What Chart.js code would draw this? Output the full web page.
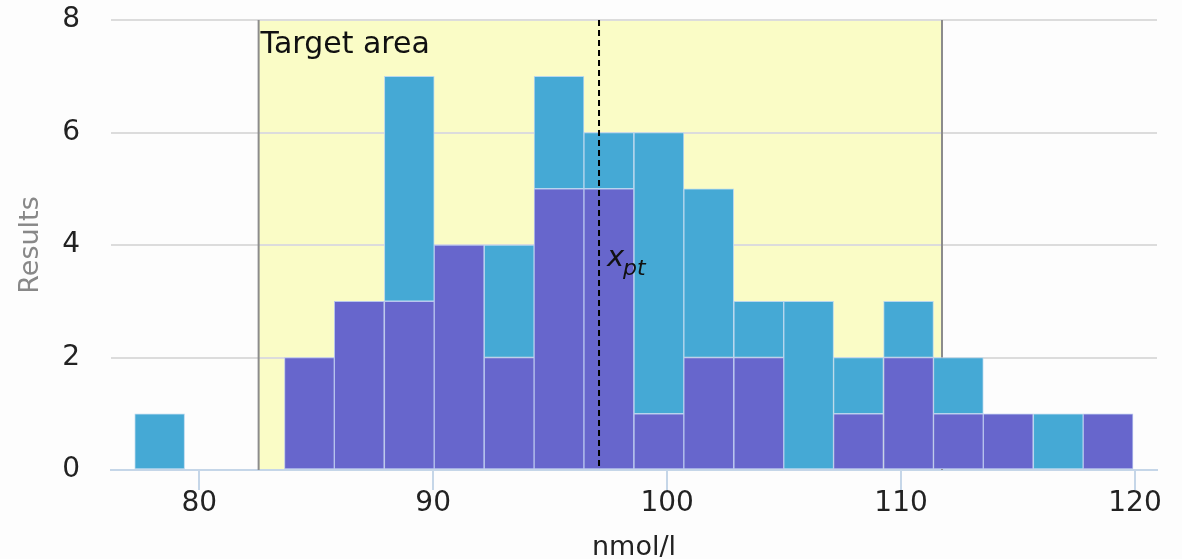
<!DOCTYPE html>
<html>
<head>
<meta charset="utf-8">
<script src="https://cdn.jsdelivr.net/npm/chart.js@4"></script>
<style>
  html, body { margin: 0; padding: 0; background: #fdfdfd; }
  #wrap { width: 1182px; height: 559px; }
</style>
</head>
<body>
<div id="wrap"><canvas id="histChart"></canvas></div>
<script>
// Bin centers (nmol/l) and counts per bin
const binCenters = [78.31, 80.44, 82.58, 84.71, 86.84, 88.98, 91.11, 93.25, 95.38, 97.51,
                    99.65, 101.78, 103.92, 106.05, 108.18, 110.32, 112.45, 114.58, 116.72, 118.85];
const purpleCounts = [0, 0, 0, 2, 3, 3, 4, 2, 5, 5, 1, 2, 2, 0, 1, 2, 1, 1, 0, 1];
const blueCounts   = [1, 0, 0, 0, 0, 4, 0, 2, 2, 1, 5, 3, 1, 3, 1, 1, 1, 0, 1, 0];
const xTicks = [80, 90, 100, 110, 120];
const yTicks = [0, 2, 4, 6, 8];
const targetArea = [82.54, 111.75];
const xpt = 97.09;

const FONT = "DejaVu Sans";

function toPoints(counts) {
  return counts.map((v, i) => ({ x: binCenters[i], y: v || null }));
}

// yellow target band, its edges, the x_pt line and labels
const overlayPlugin = {
  id: "overlay",
  beforeDraw(chart) {
    const { ctx, chartArea, scales } = chart;
    const x1 = scales.x.getPixelForValue(targetArea[0]);
    const x2 = scales.x.getPixelForValue(targetArea[1]);
    ctx.save();
    ctx.fillStyle = "#fafcc6";
    ctx.fillRect(x1, chartArea.top, x2 - x1, chartArea.bottom - chartArea.top);
    ctx.restore();
  },
  beforeDatasetsDraw(chart) {
    const { ctx, chartArea, scales } = chart;
    const x1 = scales.x.getPixelForValue(targetArea[0]);
    const x2 = scales.x.getPixelForValue(targetArea[1]);
    ctx.save();
    ctx.strokeStyle = "#8c8c8c";
    ctx.lineWidth = 2;
    ctx.beginPath();
    ctx.moveTo(x1, chartArea.top);
    ctx.lineTo(x1, chartArea.bottom);
    ctx.moveTo(x2, chartArea.top);
    ctx.lineTo(x2, chartArea.bottom);
    ctx.stroke();
    ctx.fillStyle = "#111";
    ctx.font = "30px " + FONT;
    ctx.textBaseline = "alphabetic";
    ctx.fillText("Target area", x1 + 2, chartArea.top + 33);
    ctx.restore();
  },
  afterDatasetsDraw(chart) {
    const { ctx, chartArea, scales } = chart;
    const xp = scales.x.getPixelForValue(xpt);
    ctx.save();
    ctx.strokeStyle = "#000";
    ctx.lineWidth = 2;
    ctx.setLineDash([6, 4]);
    ctx.beginPath();
    ctx.moveTo(xp, chartArea.top);
    ctx.lineTo(xp, chartArea.bottom);
    ctx.stroke();
    ctx.setLineDash([]);
    ctx.fillStyle = "#111";
    ctx.font = "italic 29px " + FONT;
    ctx.fillText("x", xp + 8, scales.y.getPixelForValue(3.62));
    ctx.font = "italic 22px " + FONT;
    ctx.fillText("pt", xp + 24, scales.y.getPixelForValue(3.47));
    ctx.restore();
  }
};

new Chart(document.getElementById("histChart"), {
  type: "bar",
  data: {
    datasets: [
      {
        label: "purple",
        data: toPoints(purpleCounts),
        backgroundColor: "#6766cc",
        borderColor: "#b9c6ee",
        borderWidth: 1,
        borderSkipped: false,
        barPercentage: 1,
        categoryPercentage: 1,
        stack: "s"
      },
      {
        label: "blue",
        data: toPoints(blueCounts),
        backgroundColor: "#45a9d5",
        borderColor: "#b9d8ee",
        borderWidth: 1,
        borderSkipped: false,
        barPercentage: 1,
        categoryPercentage: 1,
        stack: "s"
      }
    ]
  },
  options: {
    responsive: true,
    maintainAspectRatio: false,
    animation: false,
    layout: { padding: { left: 0, right: 25, top: 20, bottom: 0 } },
    plugins: {
      legend: { display: false },
      tooltip: { enabled: false }
    },
    scales: {
      x: {
        type: "linear",
        min: 76.23,
        max: 120.94,
        offset: false,
        stacked: true,
        afterBuildTicks: (scale) => { scale.ticks = xTicks.map(v => ({ value: v })); },
        afterFit: (scale) => { scale.height = 89; },
        grid: { offset: false, drawOnChartArea: false, tickLength: 20, color: "#c5d6e8", lineWidth: 2 },
        border: { color: "#c5d6e8", width: 2 },
        ticks: { color: "#222", font: { family: FONT, size: 28 }, padding: -3, maxRotation: 0 },
        title: { display: true, text: "nmol/l", color: "#222", font: { family: FONT, size: 27 }, padding: { top: 0, bottom: -5 } }
      },
      y: {
        min: 0,
        max: 8,
        stacked: true,
        afterBuildTicks: (scale) => { scale.ticks = yTicks.map(v => ({ value: v })); },
        afterFit: (scale) => { scale.width = 111; scale.paddingTop = 0; scale.paddingBottom = 0; },
        grid: { color: "#dcdcdc", lineWidth: 2, drawTicks: false },
        border: { display: false },
        ticks: { color: "#222", font: { family: FONT, size: 28 }, padding: 31 },
        title: { display: true, text: "Results", color: "#888", font: { family: FONT, size: 27 }, padding: { top: 15, bottom: 0 } }
      }
    }
  },
  plugins: [overlayPlugin]
});
</script>
</body>
</html>
